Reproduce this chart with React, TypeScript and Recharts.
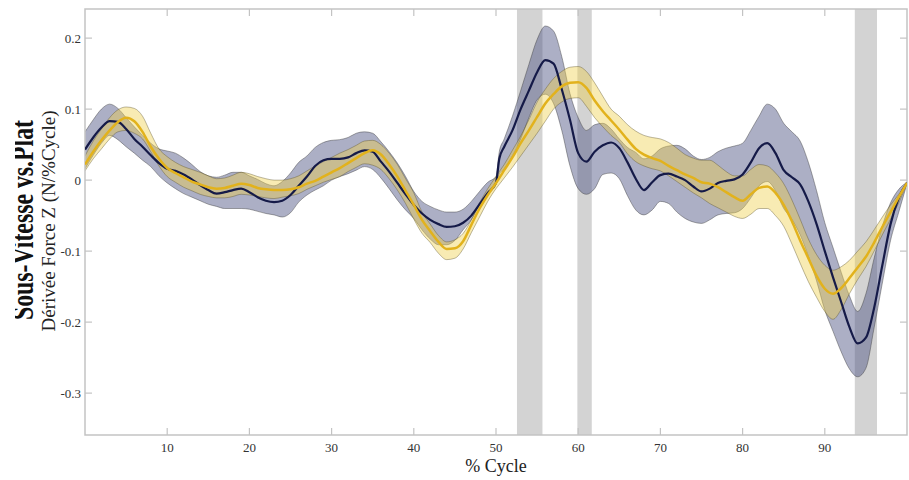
import React from 'react';
import { ComposedChart, Area, Line, XAxis, YAxis, ReferenceArea, ReferenceLine, Label } from 'recharts';

const X_PCT = [0,1,2,3,4,5,6,7,8,9,10,11,12,13,14,15,16,17,18,19,20,21,22,23,24,25,26,27,28,29,30,31,32,33,34,35,36,37,38,39,40,41,42,43,44,45,46,47,48,49,50,50.4,51,52,53,54,55,56,57,58,59,60,61,62,63,64,65,66,67,68,69,70,71,72,73,74,75,76,77,78,79,80,81,82,83,84,85,86,87,88,89,90,91,92,93,94,95,96,97,98,99,100];

const NAVY_MEAN = [0.043,0.06,0.074,0.083,0.082,0.072,0.058,0.047,0.035,0.024,0.016,0.013,0.008,0.001,-0.007,-0.014,-0.019,-0.017,-0.014,-0.012,-0.017,-0.024,-0.029,-0.031,-0.029,-0.021,-0.008,0.005,0.02,0.028,0.03,0.03,0.032,0.038,0.042,0.04,0.026,0.012,-0.004,-0.02,-0.035,-0.047,-0.056,-0.062,-0.066,-0.065,-0.06,-0.05,-0.034,-0.018,-0.004,0.03,0.047,0.07,0.1,0.126,0.152,0.169,0.164,0.128,0.085,0.038,0.026,0.04,0.049,0.053,0.045,0.025,0.002,-0.014,-0.003,0.007,0.009,0.005,0.0,-0.009,-0.016,-0.012,-0.004,-0.001,0.001,0.008,0.025,0.045,0.052,0.038,0.014,0.004,-0.006,-0.03,-0.062,-0.1,-0.137,-0.172,-0.207,-0.23,-0.222,-0.18,-0.12,-0.062,-0.025,-0.004];
const NAVY_HI = [0.068,0.085,0.1,0.107,0.101,0.088,0.075,0.063,0.052,0.044,0.041,0.038,0.031,0.022,0.012,0.006,0.004,0.007,0.011,0.011,0.006,0.001,-0.005,-0.008,-0.002,0.01,0.025,0.034,0.046,0.053,0.056,0.057,0.06,0.066,0.068,0.066,0.054,0.04,0.024,0.005,-0.016,-0.03,-0.037,-0.042,-0.045,-0.045,-0.041,-0.03,-0.016,-0.003,0.005,0.04,0.058,0.09,0.126,0.163,0.198,0.217,0.21,0.174,0.122,0.088,0.07,0.078,0.08,0.072,0.058,0.046,0.039,0.03,0.034,0.044,0.048,0.049,0.044,0.034,0.029,0.032,0.04,0.045,0.048,0.052,0.07,0.09,0.107,0.1,0.08,0.068,0.055,0.025,-0.015,-0.06,-0.095,-0.13,-0.163,-0.185,-0.16,-0.11,-0.065,-0.032,-0.013,-0.003];
const NAVY_LO = [0.016,0.035,0.052,0.063,0.057,0.047,0.038,0.028,0.019,0.006,-0.004,-0.012,-0.019,-0.024,-0.029,-0.034,-0.037,-0.04,-0.04,-0.04,-0.041,-0.044,-0.047,-0.049,-0.052,-0.046,-0.031,-0.021,-0.014,-0.008,0.0,0.005,0.009,0.014,0.019,0.015,0.003,-0.012,-0.028,-0.042,-0.054,-0.07,-0.083,-0.091,-0.091,-0.085,-0.07,-0.056,-0.036,-0.02,-0.006,0.008,0.016,0.034,0.058,0.088,0.113,0.121,0.108,0.07,0.02,-0.012,-0.02,-0.012,0.008,0.01,0.002,-0.022,-0.042,-0.049,-0.042,-0.03,-0.033,-0.045,-0.054,-0.059,-0.061,-0.056,-0.049,-0.047,-0.046,-0.04,-0.025,-0.008,-0.002,-0.015,-0.04,-0.055,-0.077,-0.107,-0.142,-0.183,-0.213,-0.242,-0.266,-0.277,-0.265,-0.208,-0.145,-0.085,-0.045,-0.005];

const GOLD_MEAN = [0.022,0.04,0.056,0.07,0.082,0.088,0.083,0.068,0.047,0.03,0.017,0.01,0.004,-0.002,-0.006,-0.01,-0.012,-0.011,-0.008,-0.005,-0.007,-0.011,-0.013,-0.014,-0.014,-0.013,-0.01,-0.005,-0.001,0.005,0.011,0.017,0.024,0.031,0.038,0.042,0.036,0.022,0.005,-0.015,-0.035,-0.056,-0.072,-0.087,-0.097,-0.096,-0.086,-0.063,-0.04,-0.021,-0.004,0.003,0.014,0.032,0.052,0.07,0.089,0.108,0.121,0.132,0.137,0.138,0.13,0.112,0.097,0.084,0.071,0.057,0.044,0.036,0.031,0.027,0.02,0.014,0.008,0.003,-0.003,-0.005,-0.01,-0.017,-0.024,-0.029,-0.02,-0.011,-0.009,-0.018,-0.035,-0.058,-0.085,-0.11,-0.135,-0.153,-0.16,-0.152,-0.138,-0.123,-0.108,-0.088,-0.066,-0.045,-0.024,-0.004];
const GOLD_HI = [0.034,0.055,0.072,0.088,0.099,0.103,0.101,0.09,0.066,0.044,0.033,0.025,0.019,0.015,0.011,0.006,0.002,0.003,0.007,0.011,0.009,0.005,0.002,0.0,0.0,0.002,0.006,0.013,0.02,0.026,0.032,0.038,0.043,0.049,0.055,0.056,0.05,0.038,0.022,0.002,-0.018,-0.045,-0.062,-0.078,-0.087,-0.084,-0.075,-0.056,-0.032,-0.012,0.005,0.012,0.022,0.042,0.062,0.085,0.11,0.128,0.143,0.153,0.159,0.16,0.153,0.137,0.118,0.1,0.09,0.078,0.069,0.063,0.06,0.058,0.053,0.045,0.036,0.031,0.028,0.028,0.021,0.012,0.006,0.006,0.015,0.022,0.02,0.01,-0.005,-0.028,-0.055,-0.083,-0.105,-0.12,-0.127,-0.122,-0.113,-0.1,-0.087,-0.07,-0.052,-0.035,-0.02,-0.004];
const GOLD_LO = [0.013,0.03,0.044,0.058,0.068,0.07,0.066,0.058,0.04,0.02,0.005,-0.003,-0.01,-0.015,-0.02,-0.023,-0.025,-0.025,-0.023,-0.02,-0.021,-0.023,-0.025,-0.026,-0.024,-0.022,-0.019,-0.013,-0.008,-0.003,0.001,0.005,0.012,0.018,0.023,0.021,0.015,0.002,-0.014,-0.033,-0.055,-0.075,-0.088,-0.103,-0.112,-0.11,-0.097,-0.074,-0.052,-0.03,-0.012,-0.006,0.003,0.018,0.034,0.05,0.066,0.083,0.1,0.11,0.115,0.116,0.104,0.088,0.075,0.063,0.053,0.037,0.026,0.02,0.016,0.013,0.006,-0.002,-0.01,-0.018,-0.025,-0.033,-0.039,-0.045,-0.051,-0.054,-0.048,-0.04,-0.04,-0.05,-0.065,-0.09,-0.117,-0.143,-0.165,-0.185,-0.196,-0.182,-0.16,-0.14,-0.122,-0.1,-0.077,-0.055,-0.032,-0.005];

const X_TICKS = [10, 20, 30, 40, 50, 60, 70, 80, 90];
const Y_TICKS = [-0.3, -0.2, -0.1, 0, 0.1, 0.2];
const SHADED_START = [52.55, 59.9, 93.65];
const SHADED_END = [55.65, 61.65, 96.35];

const X_DOMAIN: [number, number] = [0, 100];
const Y_DOMAIN: [number, number] = [-0.359, 0.241];

const W = 909;
const H = 480;
const MARGIN = { top: 9, right: 2, bottom: 0, left: 0 };
const Y_AXIS_W = 85;
const X_AXIS_H = 45;
const PLOT_W = W - MARGIN.left - MARGIN.right - Y_AXIS_W;
const PLOT_H = H - MARGIN.top - MARGIN.bottom - X_AXIS_H;
const TICK_PX = 7;
const TICK_DX = (TICK_PX * (X_DOMAIN[1] - X_DOMAIN[0])) / PLOT_W;
const TICK_DY = (TICK_PX * (Y_DOMAIN[1] - Y_DOMAIN[0])) / PLOT_H;

const FONT = '"Liberation Serif", "Times New Roman", serif';
const FRAME = '#c3c3c3';

const data = X_PCT.map((x, i) => ({
  x,
  nMean: NAVY_MEAN[i],
  nBand: [NAVY_LO[i], NAVY_HI[i]],
  gMean: GOLD_MEAN[i],
  gBand: [GOLD_LO[i], GOLD_HI[i]],
}));

export default function App() {
  return (
    <div style={{ position: 'absolute', left: 0, top: 0, width: W, height: H, background: '#fff' }}>
      <ComposedChart width={W} height={H} data={data} margin={MARGIN}>
        <XAxis
          type="number"
          dataKey="x"
          domain={X_DOMAIN}
          ticks={X_TICKS}
          allowDataOverflow
          axisLine={false}
          tickLine={false}
          tickSize={0}
          tickMargin={8}
          height={X_AXIS_H}
          tick={{ fontSize: 13, fontFamily: FONT, fill: '#333' }}
        >
          <Label value="% Cycle" position="insideBottom" offset={8} style={{ fontSize: 18, fontFamily: FONT, fill: '#222' }} />
        </XAxis>
        <YAxis
          type="number"
          domain={Y_DOMAIN}
          ticks={Y_TICKS}
          allowDataOverflow
          axisLine={false}
          tickLine={false}
          tickSize={0}
          tickMargin={4}
          width={Y_AXIS_W}
          tick={{ fontSize: 13, fontFamily: FONT, fill: '#333' }}
        />
        {SHADED_START.map((s, i) => (
          <ReferenceArea key={'sh' + i} x1={s} x2={SHADED_END[i]} y1={Y_DOMAIN[0]} y2={Y_DOMAIN[1]} fill="#d3d3d3" fillOpacity={1} stroke="none" />
        ))}
        <Area type="monotone" dataKey="nBand" fill="#4f5683" fillOpacity={0.47} stroke="rgba(60,60,60,0.55)" strokeWidth={0.8} isAnimationActive={false} activeDot={false} />
        <Line type="monotone" dataKey="nMean" stroke="#151a48" strokeWidth={2.2} dot={false} activeDot={false} isAnimationActive={false} />
        <Area type="monotone" dataKey="gBand" fill="#efd04a" fillOpacity={0.42} stroke="rgba(90,80,40,0.5)" strokeWidth={0.8} isAnimationActive={false} activeDot={false} />
        <Line type="monotone" dataKey="gMean" stroke="#e2b21c" strokeWidth={2.5} dot={false} activeDot={false} isAnimationActive={false} />
        <ReferenceArea x1={X_DOMAIN[0]} x2={X_DOMAIN[1]} y1={Y_DOMAIN[0]} y2={Y_DOMAIN[1]} fill="none" stroke={FRAME} strokeWidth={1.5} />
        {X_TICKS.map((t) => (
          <ReferenceLine key={'xb' + t} segment={[{ x: t, y: Y_DOMAIN[0] }, { x: t, y: Y_DOMAIN[0] + TICK_DY }]} stroke={FRAME} strokeWidth={1.2} />
        ))}
        {X_TICKS.map((t) => (
          <ReferenceLine key={'xt' + t} segment={[{ x: t, y: Y_DOMAIN[1] }, { x: t, y: Y_DOMAIN[1] - TICK_DY }]} stroke={FRAME} strokeWidth={1.2} />
        ))}
        {Y_TICKS.map((t) => (
          <ReferenceLine key={'yl' + t} segment={[{ x: X_DOMAIN[0], y: t }, { x: X_DOMAIN[0] + TICK_DX, y: t }]} stroke={FRAME} strokeWidth={1.2} />
        ))}
        {Y_TICKS.map((t) => (
          <ReferenceLine key={'yr' + t} segment={[{ x: X_DOMAIN[1], y: t }, { x: X_DOMAIN[1] - TICK_DX, y: t }]} stroke={FRAME} strokeWidth={1.2} />
        ))}
      </ComposedChart>
      <svg width={W} height={H} style={{ position: 'absolute', left: 0, top: 0, pointerEvents: 'none' }}>
        <defs>
          <clipPath id="titleClip">
            <rect x={15} y={0} width={W} height={H} />
          </clipPath>
        </defs>
        <g clipPath="url(#titleClip)">
          <text
            transform="translate(33,220) rotate(-90)"
            textAnchor="middle"
            fontFamily={FONT}
            fontWeight="bold"
            fontSize={32}
            textLength={200}
            lengthAdjust="spacingAndGlyphs"
            fill="#111"
          >
            Sous-Vitesse vs.Plat
          </text>
        </g>
        <text transform="translate(55,221) rotate(-90)" textAnchor="middle" fontFamily={FONT} fontSize={19} fill="#222">
          Dérivée Force Z (N/%Cycle)
        </text>
      </svg>
    </div>
  );
}
